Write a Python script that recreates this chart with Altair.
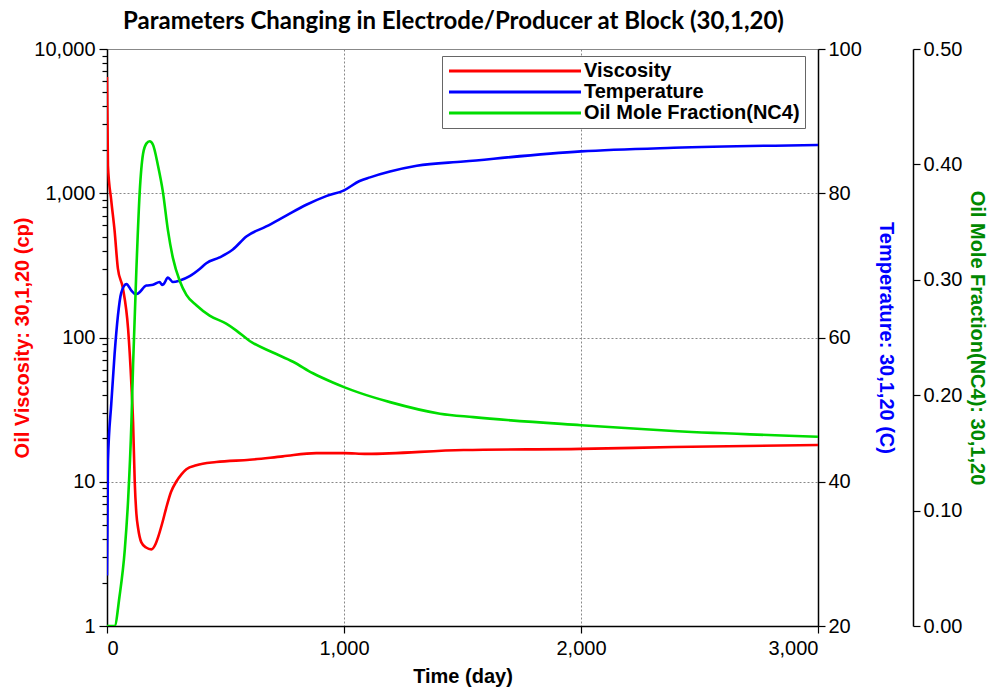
import altair as alt
import pandas as pd

# ---- data ----
visc_day = [0, 4, 18, 32, 46, 67, 89, 103, 110, 117, 124, 131, 145, 165, 187, 205, 215, 235, 250, 270,
            292, 315, 335, 377, 461, 602, 742, 883, 1000, 1096, 1504, 2000, 2390, 3000]
visc_val = [6400, 1550, 890, 550, 300, 220, 115, 47, 26, 10, 6.0, 4.8, 3.8, 3.5, 3.4, 3.7, 4.1, 5.3, 6.6, 8.5,
            10.0, 11.3, 12.2, 13.0, 13.7, 14.2, 15.0, 15.8, 15.8, 15.6, 16.6, 16.9, 17.4, 18.0]

temp_day = [0, 4, 18, 32, 46, 60, 82, 103, 120, 131, 166, 194, 222, 232, 239, 257, 278, 307, 349, 391,
            419, 475, 531, 588, 672, 756, 841, 925, 1000, 1066, 1110, 1194, 1307, 1504, 2000, 2390, 3000]
temp_val = [27.0, 42.8, 50.8, 57.7, 63.0, 66.2, 67.4, 66.5, 66.0, 66.1, 67.2, 67.3, 67.7, 67.3, 67.4, 68.3,
            67.7, 67.9, 68.5, 69.5, 70.3, 71.1, 72.2, 74.0, 75.4, 76.9, 78.4, 79.6, 80.4, 81.7, 82.2, 83.0,
            83.8, 84.4, 85.8, 86.3, 86.7]

frac_day = [0, 32, 53, 75, 89, 103, 110, 124, 138, 152, 166, 180, 194, 215, 236, 257, 278, 307, 335, 377,
            433, 503, 546, 602, 700, 785, 869, 953, 1000, 1066, 1194, 1405, 1546, 2000, 2390, 3000]
frac_val = [0.0, 0.0, 0.026, 0.066, 0.109, 0.176, 0.226, 0.309, 0.376, 0.409, 0.418, 0.420, 0.417, 0.399,
            0.376, 0.343, 0.319, 0.299, 0.287, 0.278, 0.269, 0.262, 0.256, 0.247, 0.237, 0.229, 0.219,
            0.211, 0.207, 0.202, 0.194, 0.184, 0.181, 0.174, 0.169, 0.164]

series_names = ["Viscosity", "Temperature", "Oil Mole Fraction(NC4)"]
series_colors = ["#FF0000", "#0000FF", "#00DD00"]

x_ticks = [0, 1000, 2000, 3000]
visc_ticks = [1, 10, 100, 1000, 10000]
visc_minor = [m * 10 ** e for e in range(4) for m in range(2, 10)]
temp_ticks = [20, 40, 60, 80, 100]
frac_ticks = [0.0, 0.1, 0.2, 0.3, 0.4, 0.5]

df_v = pd.DataFrame({"day": visc_day, "val": visc_val, "series": series_names[0]})
df_t = pd.DataFrame({"day": temp_day, "val": temp_val, "series": series_names[1]})
df_f = pd.DataFrame({"day": frac_day, "val": frac_val, "series": series_names[2]})
df_minor = pd.DataFrame({"v": visc_minor})

LABEL_FONT = "Liberation Sans"

color = alt.Color(
    "series:N",
    scale=alt.Scale(domain=series_names, range=series_colors),
    legend=alt.Legend(
        title=None, orient="none", legendX=335, legendY=7,
        symbolType="M-1,0H15.5", symbolSize=256, symbolStrokeWidth=3,
        symbolFillColor="transparent",
        labelFont=LABEL_FONT, labelFontWeight="bold", labelFontSize=20, labelColor="black",
        labelLimit=400, labelOffset=117,
        strokeColor="#666666", fillColor="white", padding=5, rowPadding=1,
    ),
)

x_enc = alt.X(
    "day:Q",
    scale=alt.Scale(domain=[0, 3000], nice=False, zero=False),
    axis=alt.Axis(values=x_ticks, labelExpr="format(datum.value, ',')", title="Time (day)", grid=True,
                  gridDash=[2, 2], gridColor="#888888", gridWidth=1, labelPadding=5, titlePadding=8),
)

visc_line = alt.Chart(df_v).mark_line(strokeWidth=2.6, interpolate="monotone", clip=True).encode(
    x=x_enc,
    y=alt.Y("val:Q", scale=alt.Scale(type="log", domain=[1, 10000], nice=False),
            axis=alt.Axis(values=visc_ticks, labelExpr="format(datum.value, ',')",
                          title="Oil Viscosity: 30,1,20 (cp)",
                          titleColor="#FF0000", grid=True, gridDash=[2, 2], gridColor="#888888",
                          orient="left", tickSize=8, labelPadding=4, titlePadding=1)),
    color=color,
)

visc_minor_axis = alt.Chart(df_minor).mark_point(opacity=0).encode(
    y=alt.Y("v:Q", scale=alt.Scale(type="log", domain=[1, 10000], nice=False),
            axis=alt.Axis(values=visc_minor, labels=False, grid=False, domain=False, tickSize=5,
                          title=None, orient="left")),
)

visc_layer = alt.layer(visc_line, visc_minor_axis).resolve_scale(y="shared").resolve_axis(y="independent")

temp_line = alt.Chart(df_t).mark_line(strokeWidth=2.6, interpolate="monotone", clip=True).encode(
    x=x_enc,
    y=alt.Y("val:Q", scale=alt.Scale(domain=[20, 100], nice=False, zero=False),
            axis=alt.Axis(values=temp_ticks, title="Temperature: 30,1,20 (C)", titleColor="#0000FF",
                          grid=False, orient="right", labelPadding=3, titlePadding=14)),
    color=color,
)

frac_line = alt.Chart(df_f).mark_line(strokeWidth=2.6, interpolate="monotone", clip=True).encode(
    x=x_enc,
    y=alt.Y("val:Q", scale=alt.Scale(domain=[0, 0.5], nice=False, zero=False),
            axis=alt.Axis(values=frac_ticks, format=".2f", title="Oil Mole Fraction(NC4): 30,1,20",
                          titleColor="#008800", grid=False, orient="right", offset=95,
                          labelPadding=3, titlePadding=5)),
    color=color,
)

chart = (
    alt.layer(visc_layer, temp_line, frac_line)
    .resolve_scale(y="independent")
    .properties(
        width=711, height=577,
        title=alt.TitleParams("Parameters Changing in Electrode/Producer at Block (30,1,20)",
                              font="Lato", fontSize=24, fontWeight="bold", anchor="middle",
                              offset=5, dx=-9, color="black"),
        autosize=alt.AutoSizeParams(type="none"),
        padding={"left": 99, "top": 41, "right": 170, "bottom": 62},
    )
    .configure_view(stroke="#888888", strokeWidth=1)
    .configure_axis(
        labelFont=LABEL_FONT, labelFontSize=20, labelColor="black",
        titleFont=LABEL_FONT, titleFontSize=20, titleFontWeight="bold", titleColor="black",
        domainColor="black", domainWidth=1.5, tickColor="black", tickWidth=1.2, tickSize=7,
    )
)

chart.save("out.html", embed_options={"renderer": "svg", "actions": False})
